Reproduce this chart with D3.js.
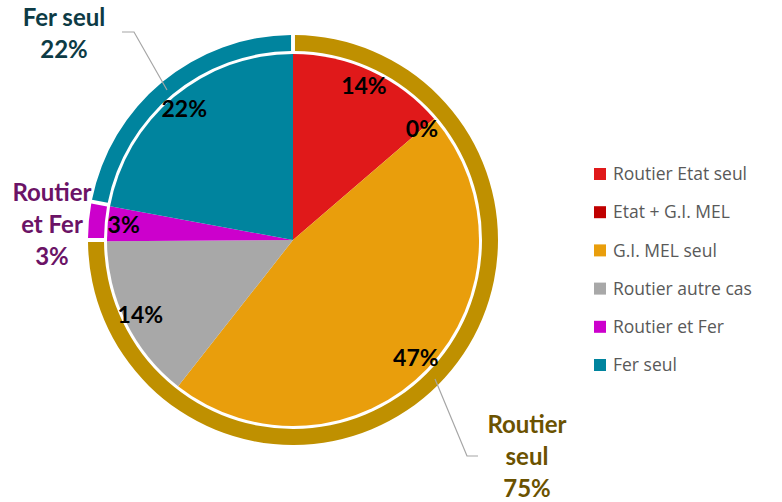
<!DOCTYPE html>
<html>
<head>
<meta charset="utf-8">
<script src="https://cdn.jsdelivr.net/npm/d3@7"></script>
<style>
  body { margin: 0; background: #fff; }
  svg { display: block; }
</style>
</head>
<body>
<div class="chart"></div>
<script>
// inner pie: detail by category
const categories = ['Routier Etat seul', 'Etat + G.I. MEL', 'G.I. MEL seul', 'Routier autre cas', 'Routier et Fer', 'Fer seul']
const values = [13.7, 0, 46.9, 14.3, 3.0, 22.1]
const pct_labels = ['14%', '0%', '47%', '14%', '3%', '22%']
const colors = ['#E0191A', '#C00000', '#E99E0C', '#A8A8A8', '#CC00CC', '#00849E']

// outer ring: grouped
const ring_categories = ['Routier seul', 'Routier et Fer', 'Fer seul']
const ring_values = [75, 3, 22]
const ring_colors = ['#BF9000', '#CC00CC', '#00849E']
const ring_label_colors = ['#6B5200', '#6B1366', '#0D3B45']
const ring_label_lines = [['Routier', 'seul', '75%'], ['Routier', 'et Fer', '3%'], ['Fer seul', '22%']]

const width = 782
const height = 502
const cx = 293
const cy = 240
const r_pie = 186
const r_ring_in = 189
const r_ring_out = 205
const r_label = 170

const svg = d3.select('.chart').append('svg')
  .attr('width', width)
  .attr('height', height)

const g = svg.append('g')
  .attr('transform', `translate(${cx}, ${cy})`)

const pie = d3.pie().sort(null).value(d => d.val)

const inner_data = pie(categories.map((c, i) => ({cat: c, val: values[i], i: i})))
const ring_data = pie(ring_categories.map((c, i) => ({cat: c, val: ring_values[i], i: i})))

const arc_pie = d3.arc().innerRadius(0).outerRadius(r_pie)
const arc_ring = d3.arc().innerRadius(r_ring_in).outerRadius(r_ring_out)
  .padAngle(0.02).padRadius(197)
const arc_label = d3.arc().innerRadius(r_label).outerRadius(r_label)

g.selectAll('path.slice')
  .data(inner_data)
  .enter()
  .append('path')
  .attr('class', 'slice')
  .attr('d', arc_pie)
  .attr('fill', d => colors[d.data.i])

g.selectAll('path.ring')
  .data(ring_data)
  .enter()
  .append('path')
  .attr('class', 'ring')
  .attr('d', arc_ring)
  .attr('fill', d => ring_colors[d.data.i])

g.selectAll('text.pct')
  .data(inner_data)
  .enter()
  .append('text')
  .attr('class', 'pct')
  .attr('x', d => arc_label.centroid(d)[0])
  .attr('y', d => arc_label.centroid(d)[1])
  .attr('text-anchor', 'middle')
  .attr('dy', '0.35em')
  .attr('font-family', 'Lato')
  .attr('font-weight', 'bold')
  .attr('font-size', '23px')
  .attr('fill', '#000')
  .text(d => pct_labels[d.data.i])

// outer labels, placed off the pie
const ring_label_pos = [[527, 425], [52, 193], [64, 18]]
const line_h = 32

ring_label_lines.forEach((lines, i) => {
  const t = svg.append('text')
    .attr('text-anchor', 'middle')
    .attr('font-family', 'Lato')
    .attr('font-weight', 'bold')
    .attr('font-size', '24px')
    .attr('fill', ring_label_colors[i])
  lines.forEach((s, j) => {
    t.append('tspan')
      .attr('x', ring_label_pos[i][0])
      .attr('y', ring_label_pos[i][1] + j * line_h)
      .attr('dy', '0.35em')
      .text(s)
  })
})

// leader lines
const leaders = [
  [[435, 379], [467, 456], [478, 456]],
  [[122, 32], [134, 32], [167, 90]]
]
svg.selectAll('path.leader')
  .data(leaders)
  .enter()
  .append('path')
  .attr('class', 'leader')
  .attr('d', d3.line())
  .attr('fill', 'none')
  .attr('stroke', '#A6A6A6')
  .attr('stroke-width', 1.2)

// legend
const legend_y = d3.scalePoint()
  .domain(categories)
  .range([174, 365])

const legend = svg.selectAll('g.legend')
  .data(categories)
  .enter()
  .append('g')
  .attr('class', 'legend')
  .attr('transform', d => `translate(594, ${legend_y(d)})`)

legend.append('rect')
  .attr('x', 0)
  .attr('y', -6)
  .attr('width', 12)
  .attr('height', 12)
  .attr('fill', (d, i) => colors[i])

legend.append('text')
  .attr('x', 19)
  .attr('y', 0)
  .attr('dy', '0.35em')
  .attr('font-family', 'Open Sans')
  .attr('font-size', '17.5px')
  .attr('fill', '#595959')
  .text(d => d)
</script>
</body>
</html>
